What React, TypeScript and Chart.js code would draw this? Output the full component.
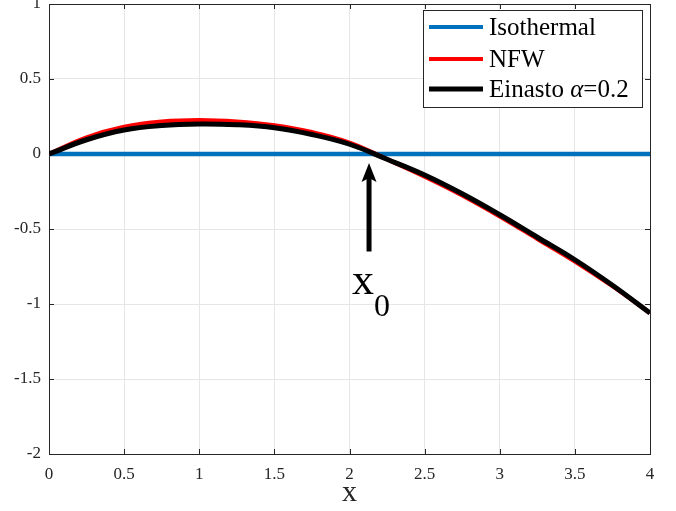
import React, { useEffect, useRef } from "react";
import { Chart, registerables } from "chart.js";

Chart.register(...registerables);

const xValues = [0, 0.25, 0.5, 0.75, 1, 1.25, 1.5, 1.75, 2, 2.25, 2.5, 2.75, 3, 3.25, 3.5, 3.75, 4];
const isothermal = [0, 0, 0, 0, 0, 0, 0, 0, 0, 0, 0, 0, 0, 0, 0, 0, 0];
const nfw = [0, 0.11, 0.18, 0.215, 0.225, 0.215, 0.19, 0.145, 0.075, -0.035, -0.15, -0.275, -0.415, -0.565, -0.715, -0.88, -1.06];
const einasto = [0, 0.095, 0.16, 0.19, 0.2, 0.195, 0.175, 0.13, 0.065, -0.035, -0.14, -0.265, -0.405, -0.555, -0.705, -0.875, -1.06];

const xTickLabels = ["0", "0.5", "1", "1.5", "2", "2.5", "3", "3.5", "4"];
const yTickLabels = ["-2", "-1.5", "-1", "-0.5", "0", "0.5", "1"];
const seriesNames = ["Isothermal", "NFW", "Einasto"];
const seriesColors = ["#0072BD", "#FF0000", "#000000"];

// arrow annotation (data coordinates)
const arrowX = 2.13;
const arrowYStart = -0.65;
const arrowYEnd = -0.06;
const labelX = 2.09;
const labelY = -0.93;

const FONT = "'Liberation Serif', 'Times New Roman', serif";

export default function App() {
  const ref = useRef<HTMLCanvasElement | null>(null);
  useEffect(() => {
    document.body.style.margin = "0";
    const canvas = ref.current!;
    const toPts = (ys: number[]) => xValues.map((x, i) => ({ x, y: ys[i] }));

    const overlay = {
      id: "overlay",
      beforeDatasetsDraw(chart: any) {
        const { ctx, chartArea: a } = chart;
        ctx.save();
        ctx.strokeStyle = "#262626";
        ctx.lineWidth = 1;
        const xs = chart.scales.x, ys = chart.scales.y;
        xTickLabels.forEach((t) => {
          const px = Math.round(xs.getPixelForValue(parseFloat(t))) + 0.5;
          ctx.beginPath();
          ctx.moveTo(px, a.bottom); ctx.lineTo(px, a.bottom - 5);
          ctx.moveTo(px, a.top); ctx.lineTo(px, a.top + 5);
          ctx.stroke();
        });
        yTickLabels.forEach((t) => {
          const py = Math.round(ys.getPixelForValue(parseFloat(t))) + 0.5;
          ctx.beginPath();
          ctx.moveTo(a.left, py); ctx.lineTo(a.left + 5, py);
          ctx.moveTo(a.right, py); ctx.lineTo(a.right - 5, py);
          ctx.stroke();
        });
        ctx.strokeRect(Math.round(a.left) + 0.5, Math.round(a.top) + 0.5, Math.round(a.right - a.left), Math.round(a.bottom - a.top));
        ctx.restore();
      },
      afterDraw(chart: any) {
        const { ctx } = chart;
        const xs = chart.scales.x, ys = chart.scales.y;
        ctx.save();
        const ax = xs.getPixelForValue(arrowX);
        const y0 = ys.getPixelForValue(arrowYStart);
        const y1 = ys.getPixelForValue(arrowYEnd);
        ctx.strokeStyle = "#000";
        ctx.fillStyle = "#000";
        ctx.lineWidth = 5;
        ctx.beginPath();
        ctx.moveTo(ax, y0);
        ctx.lineTo(ax, y1 + 14);
        ctx.stroke();
        ctx.beginPath();
        ctx.moveTo(ax, y1);
        ctx.lineTo(ax - 7.5, y1 + 19);
        ctx.lineTo(ax, y1 + 15);
        ctx.lineTo(ax + 7.5, y1 + 19);
        ctx.closePath();
        ctx.fill();
        const lx = xs.getPixelForValue(labelX);
        const ly = ys.getPixelForValue(labelY);
        ctx.textBaseline = "alphabetic";
        ctx.textAlign = "center";
        ctx.font = `44px ${FONT}`;
        ctx.fillText("x", lx, ly);
        ctx.textAlign = "left";
        ctx.font = `32px ${FONT}`;
        ctx.fillText("0", lx + 11, ly + 22);

        const bx = 423, by = 10, bw = 219, bh = 97;
        ctx.fillStyle = "#fff";
        ctx.fillRect(bx, by, bw, bh);
        ctx.strokeStyle = "#262626";
        ctx.lineWidth = 1;
        ctx.strokeRect(bx + 0.5, by + 0.5, bw, bh);
        const rows = [27, 59, 89];
        const widths = [4, 4, 5];
        rows.forEach((ry, i) => {
          ctx.strokeStyle = seriesColors[i];
          ctx.lineWidth = widths[i];
          ctx.beginPath();
          ctx.moveTo(429, ry);
          ctx.lineTo(483, ry);
          ctx.stroke();
          ctx.fillStyle = "#000";
          ctx.textAlign = "left";
          ctx.textBaseline = "middle";
          ctx.font = `25px ${FONT}`;
          if (i < 2) {
            ctx.fillText(seriesNames[i], 489, ry + 1);
          } else {
            let x = 489;
            const p1 = seriesNames[i] + " ";
            ctx.fillText(p1, x, ry + 1);
            x += ctx.measureText(p1).width;
            ctx.font = `italic 25px ${FONT}`;
            ctx.fillText("\u03B1", x, ry + 1);
            x += ctx.measureText("\u03B1").width;
            ctx.font = `25px ${FONT}`;
            ctx.fillText("=0.2", x, ry + 1);
          }
        });
        ctx.restore();
      },
    };

    const chart = new Chart(canvas, {
      type: "line",
      data: {
        datasets: [
          { label: seriesNames[0], data: toPts(isothermal), borderColor: seriesColors[0], borderWidth: 4.5, pointRadius: 0, order: 3, tension: 0 },
          { label: seriesNames[1], data: toPts(nfw), borderColor: seriesColors[1], borderWidth: 4.5, pointRadius: 0, order: 2, tension: 0.4 },
          { label: seriesNames[2], data: toPts(einasto), borderColor: seriesColors[2], borderWidth: 5, pointRadius: 0, order: 1, tension: 0.4 },
        ],
      },
      options: {
        responsive: false,
        animation: false,
        layout: { padding: { left: 0, right: 26, top: 4, bottom: 0 } },
        plugins: { legend: { display: false }, tooltip: { enabled: false } },
        scales: {
          x: {
            type: "linear",
            min: 0,
            max: 4,
            afterBuildTicks: (s: any) => { s.ticks = xTickLabels.map((t) => ({ value: parseFloat(t) })); },
            afterFit: (s: any) => { s.height = 57; s.paddingLeft = 0; s.paddingRight = 0; },
            ticks: {
              callback: (_v: any, i: number) => xTickLabels[i],
              color: "#262626",
              font: { family: FONT, size: 17 },
              padding: 10,
              maxRotation: 0,
            },
            grid: { color: "#e6e6e6", drawTicks: false, lineWidth: 1 },
            border: { display: false },
            title: { display: true, text: "x", color: "#262626", font: { family: FONT, size: 30 }, padding: { top: -4, bottom: 0 } },
          },
          y: {
            type: "linear",
            min: -2,
            max: 1,
            afterBuildTicks: (s: any) => { s.ticks = yTickLabels.map((t) => ({ value: parseFloat(t) })); },
            afterFit: (s: any) => { s.width = 49; s.paddingTop = 0; s.paddingBottom = 0; },
            ticks: {
              callback: (_v: any, i: number) => yTickLabels[i],
              color: "#262626",
              font: { family: FONT, size: 17 },
              padding: 8,
            },
            grid: { color: "#e6e6e6", drawTicks: false, lineWidth: 1 },
            border: { display: false },
          },
        },
      },
      plugins: [overlay],
    } as any);
    return () => chart.destroy();
  }, []);
  return (
    <div style={{ width: 676, height: 511 }}>
      <canvas ref={ref} width={676} height={511} />
    </div>
  );
}
